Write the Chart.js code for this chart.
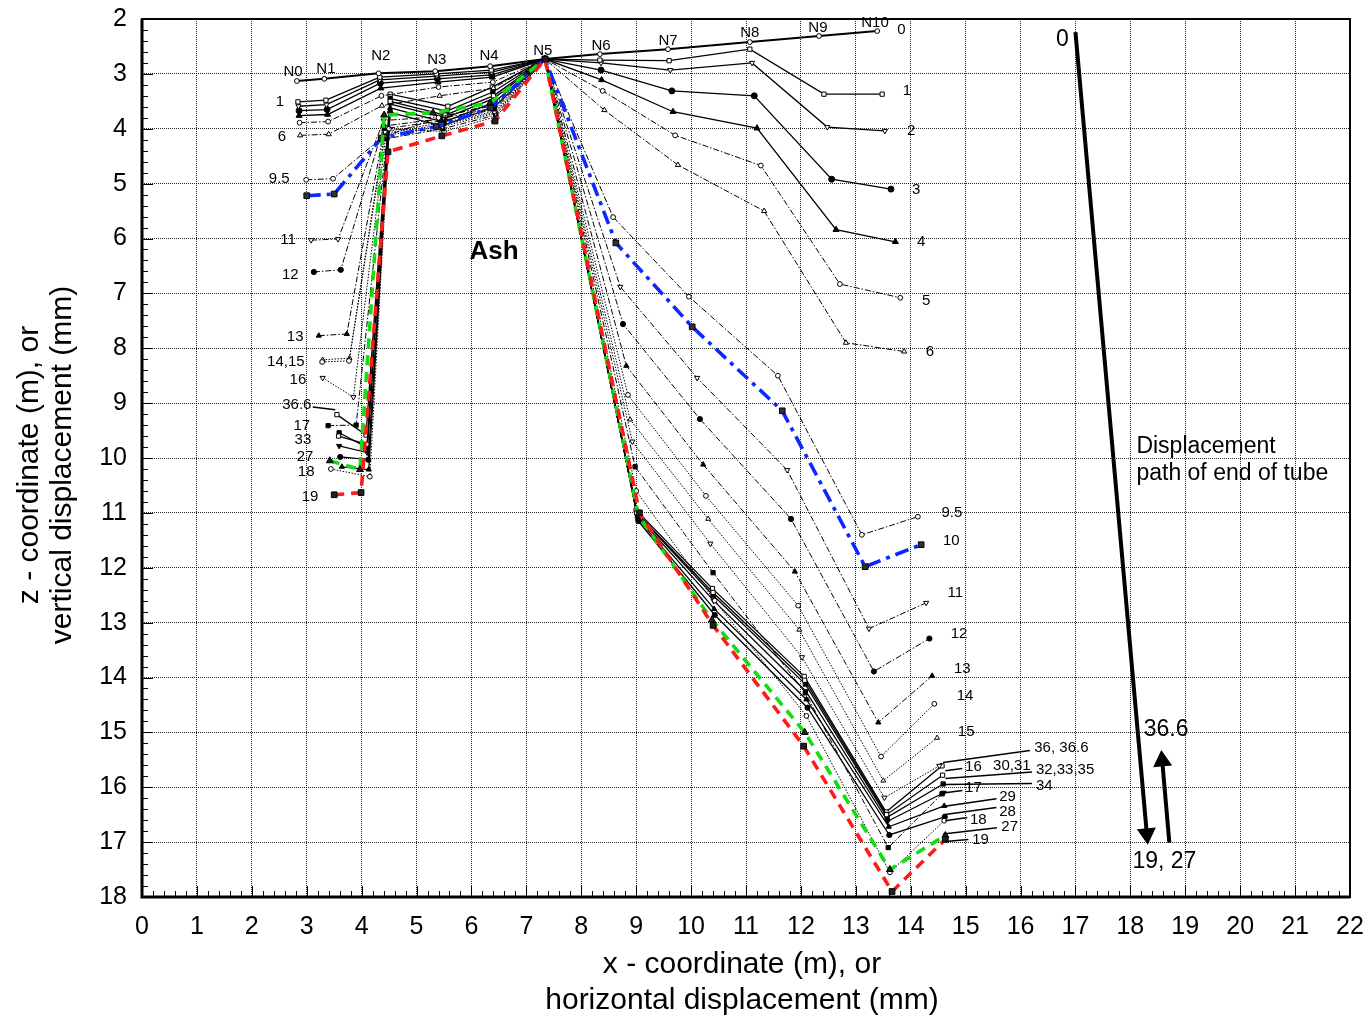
<!DOCTYPE html>
<html><head><meta charset="utf-8">
<script src="https://cdn.jsdelivr.net/npm/chart.js@4.4.1/dist/chart.umd.min.js"></script>
<style>html,body{margin:0;padding:0;background:#fff}#wrap{width:1369px;height:1019px;position:relative}</style>
</head><body><div id="wrap"><canvas id="c" width="1369" height="1019"></canvas></div>
<script>
// ---------- data (x m / mm, z m / mm) ----------
const nodeNames = ['N0','N1','N2','N3','N4','N5','N6','N7','N8','N9','N10'];
const xTickValues = [0,1,2,3,4,5,6,7,8,9,10,11,12,13,14,15,16,17,18,19,20,21,22];
const yTickValues = [2,3,4,5,6,7,8,9,10,11,12,13,14,15,16,17,18];

const s0  = [[2.82,3.13],[3.32,3.09],[4.31,2.99],[5.34,2.95],[6.34,2.86],[7.34,2.73],[8.34,2.64],[9.58,2.55],[11.07,2.42],[12.33,2.31],[13.39,2.22]];
const s1  = [[2.84,3.51],[3.35,3.48],[4.33,3.06],[5.36,3.00],[6.36,2.93],[7.34,2.73],[8.34,2.75],[9.60,2.76],[11.07,2.55],[12.42,3.37],[13.48,3.37]];
const s2  = [[2.85,3.59],[3.36,3.56],[4.33,3.11],[5.37,3.04],[6.37,2.97],[7.34,2.73],[8.36,2.80],[9.62,2.93],[11.11,2.80],[12.48,3.97],[13.53,4.04]];
const s3  = [[2.86,3.67],[3.37,3.65],[4.34,3.17],[5.38,3.09],[6.37,3.02],[7.34,2.73],[8.36,2.93],[9.65,3.31],[11.15,3.40],[12.56,4.92],[13.64,5.10]];
const s4  = [[2.86,3.76],[3.38,3.74],[4.35,3.26],[5.39,3.15],[6.38,3.06],[7.34,2.73],[8.37,3.11],[9.67,3.69],[11.20,3.99],[12.64,5.84],[13.72,6.06]];
const s5  = [[2.87,3.89],[3.39,3.87],[4.36,3.40],[5.40,3.24],[6.39,3.15],[7.34,2.73],[8.39,3.31],[9.71,4.12],[11.27,4.67],[12.71,6.83],[13.81,7.08]];
const s6  = [[2.88,4.12],[3.40,4.10],[4.37,3.58],[5.42,3.40],[6.40,3.26],[7.34,2.73],[8.42,3.66],[9.76,4.66],[11.33,5.50],[12.82,7.90],[13.88,8.06]];
const s9_5= [[2.99,4.93],[3.48,4.91],[4.38,4.15],[5.40,3.80],[6.40,3.55],[7.34,2.73],[8.58,5.61],[9.96,7.06],[11.58,8.50],[13.11,11.40],[14.13,11.07]];
const s10 = [[3.00,5.22],[3.50,5.19],[4.36,4.17],[5.36,3.96],[6.35,3.62],[7.34,2.73],[8.63,6.08],[10.02,7.61],[11.66,9.14],[13.17,11.98],[14.19,11.58]];
const s11 = [[3.08,6.03],[3.57,6.01],[4.40,3.85],[5.42,3.78],[6.40,3.58],[7.34,2.73],[8.71,6.88],[10.11,8.54],[11.75,10.22],[13.24,13.11],[14.28,12.64]];
const s12 = [[3.13,6.61],[3.62,6.57],[4.40,3.95],[5.43,3.82],[6.41,3.62],[7.34,2.73],[8.76,7.56],[10.16,9.29],[11.82,11.11],[13.33,13.89],[14.34,13.29]];
const s13 = [[3.22,7.77],[3.73,7.74],[4.41,4.00],[5.44,3.86],[6.41,3.65],[7.34,2.73],[8.82,8.32],[10.22,10.12],[11.89,12.07],[13.41,14.82],[14.39,13.97]];
const s14 = [[3.28,8.25],[3.77,8.23],[4.42,4.05],[5.45,3.90],[6.42,3.68],[7.34,2.73],[8.85,8.85],[10.27,10.69],[11.95,12.69],[13.46,15.44],[14.43,14.48]];
const s15 = [[3.29,8.21],[3.78,8.18],[4.43,4.08],[5.46,3.93],[6.43,3.70],[7.34,2.73],[8.89,9.30],[10.31,11.11],[11.97,13.13],[13.50,15.88],[14.48,15.10]];
const s16 = [[3.29,8.54],[3.85,8.89],[4.44,4.12],[5.47,3.96],[6.44,3.72],[7.34,2.73],[8.93,9.70],[10.35,11.56],[12.02,13.63],[13.52,16.19],[14.52,15.61]];
const s17 = [[3.39,9.41],[3.90,9.40],[4.46,4.18],[5.48,4.00],[6.44,3.75],[7.34,2.73],[8.98,10.16],[10.40,12.09],[12.08,14.28],[13.59,17.10],[14.57,16.12]];
const s18 = [[3.44,10.20],[4.15,10.34],[4.50,4.00],[5.50,4.05],[6.45,3.78],[7.34,2.73],[9.00,10.60],[10.43,12.60],[12.10,14.70],[13.62,17.55],[14.61,16.61]];
const s19 = [[3.50,10.67],[3.99,10.63],[4.48,4.42],[5.46,4.13],[6.43,3.86],[7.34,2.73],[9.06,11.00],[10.40,13.05],[12.05,15.25],[13.66,17.90],[14.63,16.95]];
const s27 = [[3.42,10.05],[3.97,10.21],[4.41,3.75],[5.30,3.71],[6.34,3.53],[7.34,2.73],[9.04,11.05],[10.38,12.95],[12.07,15.00],[13.62,17.50],[14.63,16.88]];
const s28 = [[3.61,9.98],[4.12,10.03],[4.52,3.70],[5.46,3.95],[6.42,3.60],[7.34,2.73],[9.04,11.15],[10.43,12.86],[12.12,14.55],[13.61,16.87],[14.62,16.54]];
const s29 = [[3.64,10.16],[4.13,10.21],[4.52,3.62],[5.50,3.88],[6.41,3.52],[7.34,2.73],[9.03,11.10],[10.42,12.75],[12.10,14.40],[13.60,16.72],[14.61,16.34]];
const s30 = [[3.58,9.60],[4.10,9.75],[4.52,3.50],[5.52,3.75],[6.40,3.40],[7.34,2.73],[9.01,11.00],[10.40,12.45],[12.07,14.05],[13.56,16.50],[14.58,15.78]];
const s32 = [[3.59,9.54],[4.10,9.81],[4.52,3.45],[5.55,3.68],[6.39,3.33],[7.34,2.73],[9.02,11.02],[10.40,12.50],[12.08,14.12],[13.57,16.55],[14.59,15.94]];
const s34 = [[3.59,9.78],[4.10,9.90],[4.52,3.55],[5.53,3.80],[6.40,3.45],[7.34,2.73],[9.02,11.05],[10.41,12.60],[12.09,14.25],[13.58,16.62],[14.60,16.10]];
const s36 = [[3.55,9.21],[4.08,9.58],[4.52,3.37],[5.57,3.59],[6.38,3.24],[7.34,2.73],[9.00,10.95],[10.39,12.38],[12.06,13.98],[13.55,16.45],[14.57,15.61]];

// displacement path of end of tube
const pathDown = [[17.00,2.24],[18.30,16.85]];
const pathUp   = [[18.71,17.01],[18.58,15.52]];

// ---------- styles ----------
const DD=[6,2,1.5,2], DOT=[1.5,1.5];
function ser(label,data,o){return Object.assign({label,data:data.map(p=>({x:p[0],y:p[1]})),showLine:true,borderColor:'#000',borderWidth:1,pointBorderColor:'#000',pointBorderWidth:1,pointBackgroundColor:'#fff',pointRadius:2.6,pointStyle:'circle',order:1},o||{});}
const FILL='#000';
const datasets = [
 ser('19',s19,{borderColor:'#ff1a1a',borderWidth:3.6,borderDash:[10,7],pointStyle:'rect',pointRadius:4,pointBackgroundColor:'#222',order:0}),
 ser('27',s27,{borderColor:'#11dd11',borderWidth:3.6,borderDash:[10,7],pointStyle:'triangle',pointRadius:4,pointBackgroundColor:'#222',order:0}),
 ser('10',s10,{borderColor:'#0a28ff',borderWidth:3.6,borderDash:[14,6,4,6],pointStyle:'rect',pointRadius:4,pointBackgroundColor:'#333',order:0}),
 ser('0',s0,{borderWidth:2,pointRadius:2.4}),
 ser('1',s1,{borderWidth:1.3,pointStyle:'rect',pointRadius:3}),
 ser('2',s2,{borderWidth:1.3,pointStyle:'triangle',rotation:180,pointRadius:3}),
 ser('3',s3,{borderWidth:1.3,pointRadius:3,pointBackgroundColor:FILL}),
 ser('4',s4,{borderWidth:1.3,pointStyle:'triangle',pointRadius:3.5,pointBackgroundColor:FILL}),
 ser('5',s5,{borderDash:DD,pointRadius:2.4}),
 ser('6',s6,{borderDash:DD,pointStyle:'triangle',pointRadius:3}),
 ser('9.5',s9_5,{borderDash:DD,pointRadius:2.4}),
 ser('11',s11,{borderDash:DD,pointStyle:'triangle',rotation:180,pointRadius:3}),
 ser('12',s12,{borderDash:DD,pointRadius:2.6,pointBackgroundColor:FILL}),
 ser('13',s13,{borderDash:DD,pointStyle:'triangle',pointRadius:3,pointBackgroundColor:FILL}),
 ser('14',s14,{borderDash:DOT,pointRadius:2.4}),
 ser('15',s15,{borderDash:DOT,pointStyle:'triangle',pointRadius:2.8}),
 ser('16',s16,{borderDash:DOT,pointStyle:'triangle',rotation:180,pointRadius:3}),
 ser('17',s17,{borderDash:DD,pointStyle:'rect',pointRadius:3,pointBackgroundColor:FILL}),
 ser('18',s18,{borderDash:DOT,pointRadius:2.4}),
 ser('28',s28,{borderWidth:1.3,pointRadius:2.6,pointBackgroundColor:FILL}),
 ser('29',s29,{borderWidth:1.3,pointStyle:'triangle',pointRadius:3,pointBackgroundColor:FILL}),
 ser('30,31',s30,{borderWidth:1.3,pointStyle:'rect',pointRadius:3}),
 ser('32,33,35',s32,{borderWidth:1.3,pointStyle:'rect',pointRadius:3,pointBackgroundColor:FILL}),
 ser('34',s34,{borderWidth:1.3,pointStyle:'triangle',rotation:180,pointRadius:3,pointBackgroundColor:FILL}),
 ser('36,36.6',s36,{borderWidth:1.3,pointStyle:'rect',pointRadius:3}),
 ser('pathDown',pathDown,{borderWidth:4,pointStyle:'triangle',pointRadius:[0,11],rotation:[0,175],pointBackgroundColor:'#000',pointBorderWidth:0}),
 ser('pathUp',pathUp,{borderWidth:4,pointStyle:'triangle',pointRadius:[0,11],rotation:[0,-5],pointBackgroundColor:'#000',pointBorderWidth:0})
];

// ---------- annotations (data coordinates) ----------
const F='"Liberation Sans", Arial, sans-serif';
const texts = [
 ['N0',2.75,2.965,15,'center'],['N1',3.35,2.91,15,'center'],['N2',4.35,2.67,15,'center'],['N3',5.37,2.75,15,'center'],
 ['N4',6.32,2.67,15,'center'],['N5',7.30,2.58,15,'center'],['N6',8.36,2.49,15,'center'],['N7',9.58,2.40,15,'center'],
 ['N8',11.07,2.26,15,'center'],['N9',12.31,2.16,15,'center'],['N10',13.35,2.07,15,'center'],
 ['0',13.83,2.20,15,'center'],['1',13.93,3.31,15,'center'],['2',14.01,4.04,15,'center'],['3',14.10,5.11,15,'center'],
 ['4',14.19,6.06,15,'center'],['5',14.28,7.14,15,'center'],['6',14.35,8.07,15,'center'],['9.5',14.75,11.00,15,'center'],
 ['10',14.74,11.51,15,'center'],['11',14.81,12.46,15,'center'],['12',14.88,13.20,15,'center'],['13',14.94,13.84,15,'center'],
 ['14',14.99,14.33,15,'center'],['15',15.01,14.99,15,'center'],
 ['36, 36.6',16.25,15.28,15,'left'],['16',14.99,15.62,15,'left'],['30,31',15.50,15.61,15,'left'],['32,33,35',16.28,15.68,15,'left'],
 ['34',16.28,15.97,15,'left'],['17',14.99,16.01,15,'left'],['29',15.61,16.17,15,'left'],['28',15.61,16.44,15,'left'],
 ['18',15.08,16.59,15,'left'],['27',15.65,16.72,15,'left'],['19',15.12,16.95,15,'left'],
 ['1',2.51,3.51,15,'center'],['6',2.55,4.15,15,'center'],['9.5',2.50,4.91,15,'center'],['11',2.66,6.03,15,'center'],
 ['12',2.70,6.66,15,'center'],['13',2.79,7.79,15,'center'],['14,15',2.62,8.25,15,'center'],['16',2.84,8.58,15,'center'],
 ['36.6',2.82,9.03,15,'center'],['17',2.91,9.41,15,'center'],['33',2.93,9.67,15,'center'],['27',2.97,9.98,15,'center'],
 ['18',2.99,10.25,15,'center'],['19',3.06,10.71,15,'center'],
 ['Displacement',18.11,9.80,23,'left'],['path of end of tube',18.11,10.29,23,'left'],
 ['0',16.76,2.38,23,'center'],['36.6',18.65,14.95,23,'center'],['19, 27',18.62,17.36,23,'center']
];
const boldTexts = [['Ash',6.41,6.24,26,'center']];
const leaders = [
 [14.59,15.55,16.17,15.33],[14.63,15.70,14.94,15.66],[14.63,15.84,16.21,15.72],[14.61,15.95,16.21,15.93],
 [14.63,16.10,14.94,16.06],[14.59,16.35,15.56,16.21],[14.59,16.50,15.56,16.37],[14.63,16.61,15.03,16.55],
 [14.59,16.85,15.57,16.74],[14.63,16.99,15.05,16.95],[3.11,9.07,3.52,9.12]
];

const deco = {
 id:'deco',
 afterDatasetsDraw(chart){
  const {ctx,scales:{x,y}}=chart;
  ctx.save();
  ctx.strokeStyle='#000'; ctx.lineWidth=1.5;
  for(const L of leaders){ctx.beginPath();ctx.moveTo(x.getPixelForValue(L[0]),y.getPixelForValue(L[1]));ctx.lineTo(x.getPixelForValue(L[2]),y.getPixelForValue(L[3]));ctx.stroke();}
  ctx.fillStyle='#000'; ctx.textBaseline='middle';
  for(const t of texts){ctx.font=t[3]+'px '+F; ctx.textAlign=t[4]; ctx.fillText(t[0],x.getPixelForValue(t[1]),y.getPixelForValue(t[2]));}
  for(const t of boldTexts){ctx.font='bold '+t[3]+'px '+F; ctx.textAlign=t[4]; ctx.fillText(t[0],x.getPixelForValue(t[1]),y.getPixelForValue(t[2]));}
  ctx.restore();
 },
 afterDraw(chart){
  const {ctx,scales:{x,y},chartArea:a}=chart;
  ctx.save();
  ctx.strokeStyle='#000';
  ctx.lineWidth=1;
  for(let i=0;i<=110;i++){const v=i/5;const px=Math.round(x.getPixelForValue(v))+0.5;const L=(i%5===0)?11:6;ctx.beginPath();ctx.moveTo(px,a.bottom);ctx.lineTo(px,a.bottom-L);ctx.stroke();}
  for(let i=0;i<=80;i++){const v=2+i/5;const py=Math.round(y.getPixelForValue(v))+0.5;const L=(i%5===0)?11:6;ctx.beginPath();ctx.moveTo(a.left,py);ctx.lineTo(a.left+L,py);ctx.stroke();}
  ctx.lineWidth=2; ctx.strokeRect(a.left,a.top,a.right-a.left,a.bottom-a.top);
  ctx.lineWidth=3; ctx.beginPath();ctx.moveTo(a.left,a.top);ctx.lineTo(a.left,a.bottom);ctx.lineTo(a.right,a.bottom);ctx.stroke();
  ctx.fillStyle='#000'; ctx.font='30px '+F; ctx.textAlign='center'; ctx.textBaseline='middle';
  ctx.fillText('x - coordinate (m), or',742,965);
  ctx.fillText('horizontal displacement (mm)',742,1001);
  ctx.translate(0,465); ctx.rotate(-Math.PI/2);
  ctx.fillText('z - coordinate (m), or',0,30);
  ctx.fillText('vertical displacement (mm)',0,63);
  ctx.restore();
 }
};

new Chart(document.getElementById('c'),{
 type:'scatter',
 data:{datasets},
 options:{
  responsive:false, animation:false, devicePixelRatio:1,
  layout:{padding:{top:19,right:19,left:0,bottom:0}},
  plugins:{legend:{display:false},tooltip:{enabled:false}},
  elements:{line:{tension:0}},
  scales:{
   x:{type:'linear',min:0,max:22,
      afterBuildTicks:s=>{s.ticks=xTickValues.map(v=>({value:v}));},
      afterFit:s=>{s.height=122;s.paddingLeft=0;s.paddingRight=0;s.paddingTop=0;s.paddingBottom=0;},
      ticks:{font:{size:25,family:F},color:'#000',padding:15,maxRotation:0,autoSkip:false},
      grid:{color:'rgba(0,0,0,0.85)',lineWidth:1,drawTicks:false},
      border:{display:false,dash:[1,1]}},
   y:{type:'linear',min:2,max:18,reverse:true,
      afterBuildTicks:s=>{s.ticks=yTickValues.map(v=>({value:v}));},
      afterFit:s=>{s.width=142;s.paddingLeft=0;s.paddingRight=0;s.paddingTop=0;s.paddingBottom=0;},
      ticks:{font:{size:25,family:F},color:'#000',padding:15,autoSkip:false},
      grid:{color:'rgba(0,0,0,0.85)',lineWidth:1,drawTicks:false},
      border:{display:false,dash:[1,1]}}
  }
 },
 plugins:[deco]
});
</script></body></html>
